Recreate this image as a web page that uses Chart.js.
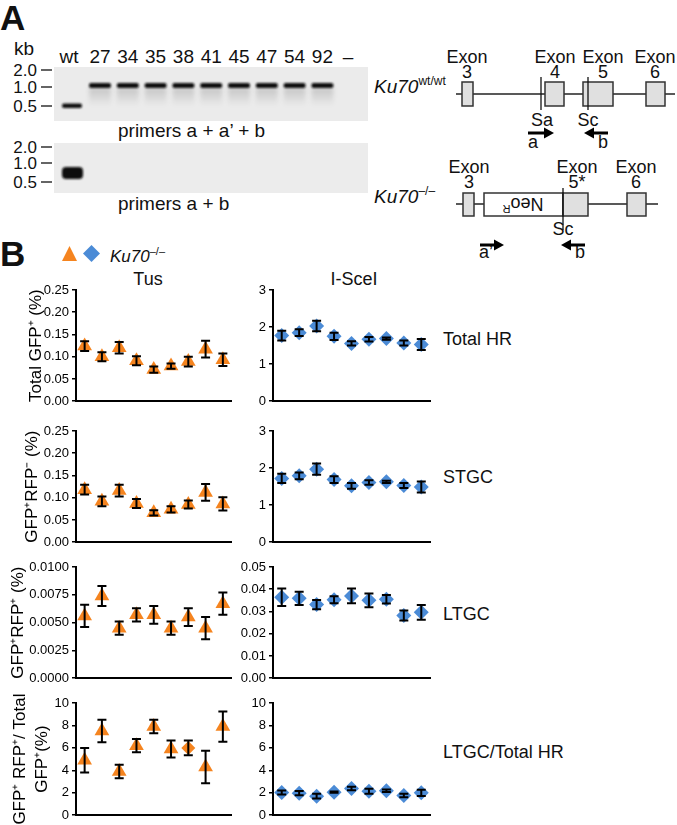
<!DOCTYPE html>
<html>
<head>
<meta charset="utf-8">
<script src="https://cdn.jsdelivr.net/npm/chart.js@4.4.1/dist/chart.umd.min.js"></script>
<style>
  body { margin: 0; background: #fff; }
  #page { position: relative; width: 677px; height: 825px; overflow: hidden; font-family: 'Liberation Sans', Arial, sans-serif; }
  #page canvas { position: absolute; }
  #art { position: absolute; left: 0; top: 0; }
  #art text { font-family: 'Liberation Sans', Arial, sans-serif; fill: #111; }
</style>
</head>
<body>
<div id="page">
<svg id="art" width="677" height="825" xmlns="http://www.w3.org/2000/svg">
  <defs>
    <filter id="soft" x="-20%" y="-100%" width="140%" height="300%"><feGaussianBlur stdDeviation="0.9"/></filter>
    <filter id="haze" x="-20%" y="-50%" width="140%" height="200%"><feGaussianBlur stdDeviation="2"/></filter>
    <linearGradient id="smear" x1="0" y1="0" x2="0" y2="1">
      <stop offset="0" stop-color="#000" stop-opacity="0.16"/>
      <stop offset="1" stop-color="#000" stop-opacity="0"/>
    </linearGradient>
  </defs>

  <!-- panel A : gel -->
  <text x="0" y="30" font-size="35" font-weight="bold">A</text>
  <text x="14" y="55" font-size="19">kb</text>
  <rect x="54" y="67" width="314" height="54" fill="#ebebeb"/>
  <rect x="54" y="143" width="314" height="50" fill="#ececec"/>
  <g id="lanes"></g>
  <g font-size="17" text-anchor="end">
    <text x="37" y="76">2.0</text><text x="37" y="93">1.0</text><text x="37" y="112">0.5</text>
    <text x="37" y="153">2.0</text><text x="37" y="169">1.0</text><text x="37" y="188">0.5</text>
  </g>
  <g stroke="#111" stroke-width="1.3">
    <line x1="41" y1="70" x2="52" y2="70"/><line x1="41" y1="87" x2="52" y2="87"/><line x1="41" y1="106" x2="52" y2="106"/>
    <line x1="41" y1="147" x2="52" y2="147"/><line x1="41" y1="163" x2="52" y2="163"/><line x1="41" y1="182" x2="52" y2="182"/>
  </g>
  <rect x="62" y="103.5" width="20" height="4.5" rx="2" fill="#111" filter="url(#soft)"/>
  <rect x="62" y="167" width="21" height="12" rx="4" fill="#0a0a0a" filter="url(#soft)"/>
  <text x="118" y="137" font-size="19">primers a + a’ + b</text>
  <text x="118" y="210" font-size="19">primers a + b</text>
  <text x="374" y="93" font-size="19"><tspan font-style="italic">Ku70</tspan><tspan font-size="12" dy="-8">wt/wt</tspan></text>
  <text x="374" y="203" font-size="19"><tspan font-style="italic">Ku70</tspan><tspan font-size="12" dy="-8">–/–</tspan></text>

  <!-- panel A : locus maps -->
  <g font-size="18" text-anchor="middle">
    <text x="467" y="63">Exon</text><text x="467" y="78">3</text>
    <text x="555" y="63">Exon</text><text x="555" y="78">4</text>
    <text x="603" y="63">Exon</text><text x="603" y="78">5</text>
    <text x="655" y="63">Exon</text><text x="655" y="78">6</text>
    <text x="542" y="126">Sa</text><text x="588" y="126">Sc</text>
    <text x="533" y="148">a</text><text x="603" y="148">b</text>
    <text x="469" y="173">Exon</text><text x="469" y="188">3</text>
    <text x="577" y="173">Exon</text><text x="577" y="188">5*</text>
    <text x="636" y="173">Exon</text><text x="636" y="188">6</text>
    <text x="563" y="235">Sc</text>
    <text x="486" y="258">a’</text><text x="580" y="258">b</text>
  </g>
  <g stroke="#222" stroke-width="1.5">
    <line x1="456" y1="94" x2="675" y2="94"/>
    <line x1="456" y1="204" x2="658" y2="204"/>
  </g>
  <g fill="#e0e0e0" stroke="#333" stroke-width="1.5">
    <rect x="462" y="82" width="11" height="24"/>
    <rect x="545" y="82" width="19" height="24"/>
    <rect x="583" y="82" width="30" height="24"/>
    <rect x="646" y="82" width="19" height="24"/>
    <rect x="463" y="193" width="11" height="23"/>
    <rect x="484" y="193" width="79" height="23" fill="#fff"/>
    <rect x="563" y="193" width="25" height="23"/>
    <rect x="627" y="193" width="19" height="23"/>
  </g>
  <g stroke="#111" stroke-width="1.3">
    <line x1="541" y1="77" x2="541" y2="110"/>
    <line x1="588" y1="77" x2="588" y2="110"/>
    <line x1="563" y1="188" x2="563" y2="230"/>
  </g>
  <text font-size="18" text-anchor="middle" transform="rotate(180 523 204)" x="523" y="210">Neo<tspan font-size="11" dy="-7">R</tspan></text>
  <g stroke="#000" stroke-width="3">
    <line x1="528" y1="133" x2="546" y2="133"/>
    <line x1="608" y1="133" x2="591" y2="133"/>
    <line x1="480" y1="245" x2="497" y2="245"/>
    <line x1="585" y1="245" x2="568" y2="245"/>
  </g>
  <g fill="#000">
    <polygon points="554,133 544,127.5 544,138.5"/>
    <polygon points="584,133 594,127.5 594,138.5"/>
    <polygon points="504,245 494,239.5 494,250.5"/>
    <polygon points="561,245 571,239.5 571,250.5"/>
  </g>

  <!-- panel B : labels -->
  <text x="0" y="266" font-size="35" font-weight="bold">B</text>
  <polygon points="69.5,246 77,261 62,261" fill="#f5841f"/>
  <polygon points="91.5,245 100,253.5 91.5,262 83,253.5" fill="#4b8bd6"/>
  <text x="110" y="262" font-size="17"><tspan font-style="italic">Ku70</tspan><tspan font-size="11" dy="-7">–/–</tspan></text>
  <g font-size="18" text-anchor="middle">
    <text x="148" y="285">Tus</text>
    <text x="354" y="285">I-SceI</text>
  </g>
  <g font-size="18">
    <text x="443" y="345">Total HR</text>
    <text x="443" y="483">STGC</text>
    <text x="443" y="620">LTGC</text>
    <text x="443" y="758">LTGC/Total HR</text>
  </g>
</svg>
</div>

<script>
// clone numbers (lanes of the gel, points of each plot)
const clones = ['27', '34', '35', '38', '41', '45', '47', '54', '92'];

// Tus (orange triangles): mean and SEM per clone
const tusTotal = [0.124, 0.100, 0.120, 0.091, 0.071, 0.079, 0.089, 0.117, 0.093];
const tusTotalErr = [0.011, 0.010, 0.013, 0.010, 0.007, 0.006, 0.011, 0.019, 0.014];
const tusStgc = [0.118, 0.092, 0.116, 0.087, 0.066, 0.074, 0.085, 0.112, 0.086];
const tusStgcErr = [0.011, 0.011, 0.013, 0.010, 0.006, 0.007, 0.009, 0.019, 0.015];
const tusLtgc = [0.0056, 0.0074, 0.0045, 0.0057, 0.0057, 0.0045, 0.0055, 0.0045, 0.0067];
const tusLtgcErr = [0.0010, 0.0009, 0.0006, 0.0006, 0.0008, 0.0006, 0.0008, 0.0010, 0.0010];
const tusRatio = [4.9, 7.5, 3.9, 6.2, 7.9, 5.9, 6.0, 4.3, 7.9];
const tusRatioErr = [1.1, 1.0, 0.6, 0.6, 0.6, 0.75, 0.65, 1.45, 1.35];

// I-SceI (blue diamonds)
const isceTotal = [1.77, 1.85, 2.03, 1.75, 1.56, 1.67, 1.69, 1.57, 1.53];
const isceTotalErr = [0.13, 0.09, 0.14, 0.10, 0.06, 0.06, 0.03, 0.07, 0.15];
const isceStgc = [1.72, 1.79, 1.97, 1.69, 1.52, 1.61, 1.63, 1.53, 1.49];
const isceStgcErr = [0.125, 0.09, 0.15, 0.09, 0.08, 0.06, 0.03, 0.07, 0.15];
const isceLtgc = [0.0364, 0.0359, 0.0331, 0.0353, 0.0370, 0.0350, 0.0355, 0.0282, 0.0296];
const isceLtgcErr = [0.0039, 0.0030, 0.0021, 0.0016, 0.0033, 0.0031, 0.0019, 0.0022, 0.0033];
const isceRatio = [2.03, 1.96, 1.70, 2.05, 2.38, 2.13, 2.18, 1.76, 1.99];
const isceRatioErr = [0.18, 0.19, 0.22, 0.06, 0.15, 0.22, 0.12, 0.15, 0.28];

const FONT = "'Liberation Sans', Arial, sans-serif";
const ORANGE = '#f5841f';
const BLUE = '#4b8bd6';
const page = document.getElementById('page');

// gel lane labels and bands
const SVGNS = 'http://www.w3.org/2000/svg';
const lanes = document.getElementById('lanes');
function svgEl(tag, attrs, text) {
  const el = document.createElementNS(SVGNS, tag);
  for (const k in attrs) el.setAttribute(k, attrs[k]);
  if (text) el.textContent = text;
  lanes.appendChild(el);
}
svgEl('text', { x: 69, y: 63, 'font-size': 19, 'text-anchor': 'middle' }, 'wt');
clones.forEach((c, i) => {
  const cx = 100 + i * 27.8;
  svgEl('text', { x: cx, y: 63, 'font-size': 19, 'text-anchor': 'middle' }, c);
  svgEl('rect', { x: cx - 11, y: 88, width: 22, height: 18, fill: 'url(#smear)', filter: 'url(#haze)' });
  svgEl('rect', { x: cx - 11, y: 83, width: 22, height: 5, rx: 2, fill: '#111', filter: 'url(#soft)' });
});
svgEl('text', { x: 348, y: 63, 'font-size': 19, 'text-anchor': 'middle' }, '–');

// error bars drawn on top of the markers
const errorBars = {
  id: 'errorBars',
  afterDatasetsDraw(chart) {
    const ctx = chart.ctx;
    const yScale = chart.scales.y;
    chart.data.datasets.forEach((ds, i) => {
      chart.getDatasetMeta(i).data.forEach((pt, j) => {
        const v = ds.data[j].y, e = ds.errors[j];
        const top = yScale.getPixelForValue(v + e);
        const bot = yScale.getPixelForValue(v - e);
        ctx.save();
        ctx.strokeStyle = '#000';
        ctx.lineWidth = 2;
        ctx.beginPath();
        ctx.moveTo(pt.x, top); ctx.lineTo(pt.x, bot);
        ctx.moveTo(pt.x - 4.5, top); ctx.lineTo(pt.x + 4.5, top);
        ctx.moveTo(pt.x - 4.5, bot); ctx.lineTo(pt.x + 4.5, bot);
        ctx.stroke();
        ctx.restore();
      });
    });
  }
};

function panel(cfg) {
  const padTop = 12, padBottom = 10;
  const cv = document.createElement('canvas');
  cv.width = cfg.width;
  cv.height = cfg.bottom - cfg.top + padTop + padBottom;
  cv.style.left = cfg.left + 'px';
  cv.style.top = (cfg.top - padTop) + 'px';
  page.appendChild(cv);

  new Chart(cv, {
    type: 'scatter',
    data: {
      datasets: [{
        data: cfg.values.map((v, i) => ({ x: i, y: v })),
        errors: cfg.errors,
        pointStyle: cfg.style,
        pointRadius: cfg.radius,
        pointHoverRadius: cfg.radius,
        backgroundColor: cfg.color,
        borderWidth: 0,
        clip: false
      }]
    },
    options: {
      responsive: false,
      animation: false,
      devicePixelRatio: 1,
      layout: { padding: { top: padTop, bottom: padBottom, left: 0, right: 8 } },
      plugins: { legend: { display: false }, tooltip: { enabled: false } },
      scales: {
        x: {
          type: 'linear', min: -0.5, max: 8.5,
          ticks: { display: false },
          grid: { display: false, drawTicks: false },
          border: { display: true, color: '#000', width: 2 },
          afterFit(s) { s.height = 0; }
        },
        y: {
          min: cfg.min, max: cfg.max,
          ticks: {
            stepSize: cfg.step, color: '#000', padding: 3,
            font: { family: FONT, size: 13 },
            callback: v => Number(v).toFixed(cfg.dec)
          },
          grid: { drawOnChartArea: false, drawTicks: true, tickLength: 4, color: '#000', lineWidth: 1.5 },
          border: { color: '#000', width: 2 },
          title: cfg.title ? {
            display: true, text: cfg.title, color: '#000',
            font: { family: FONT, size: 17, lineHeight: cfg.titleLine || 1.2 },
            padding: { top: cfg.titlePad, bottom: 0 }
          } : { display: false },
          afterFit(s) { s.width = cfg.axisW; }
        }
      }
    },
    plugins: [errorBars]
  });
}

const tusBase = { left: 0, width: 240, axisW: 76, color: ORANGE, style: 'triangle', radius: 8.5 };
const isceBase = { left: 236, width: 202, axisW: 37, color: BLUE, style: 'rectRot', radius: 7.5 };

// row 1: total HR
panel({ ...tusBase, top: 290, bottom: 402, values: tusTotal, errors: tusTotalErr,
  min: 0, max: 0.25, step: 0.05, dec: 2, title: 'Total GFP⁺ (%)', titlePad: 26 });
panel({ ...isceBase, top: 290, bottom: 402, values: isceTotal, errors: isceTotalErr,
  min: 0, max: 3, step: 1, dec: 0 });

// row 2: STGC
panel({ ...tusBase, top: 431, bottom: 543, values: tusStgc, errors: tusStgcErr,
  min: 0, max: 0.25, step: 0.05, dec: 2, title: 'GFP⁺RFP⁻ (%)', titlePad: 22 });
panel({ ...isceBase, top: 431, bottom: 543, values: isceStgc, errors: isceStgcErr,
  min: 0, max: 3, step: 1, dec: 0 });

// row 3: LTGC
panel({ ...tusBase, top: 567, bottom: 679, values: tusLtgc, errors: tusLtgcErr,
  min: 0, max: 0.01, step: 0.0025, dec: 4, title: 'GFP⁺RFP⁺ (%)', titlePad: 8 });
panel({ ...isceBase, top: 567, bottom: 679, values: isceLtgc, errors: isceLtgcErr,
  min: 0, max: 0.05, step: 0.01, dec: 2 });

// row 4: LTGC / total HR
panel({ ...tusBase, top: 703, bottom: 816, values: tusRatio, errors: tusRatioErr,
  style: ctx => (ctx.dataIndex === 6 ? 'rectRot' : 'triangle'),
  radius: ctx => (ctx.dataIndex === 6 ? 7 : 8.5),
  min: 0, max: 10, step: 2, dec: 0,
  title: ['GFP⁺ RFP⁺/ Total', 'GFP⁺(%)'], titlePad: 9, titleLine: 1.3 });
panel({ ...isceBase, top: 703, bottom: 816, values: isceRatio, errors: isceRatioErr,
  min: 0, max: 10, step: 2, dec: 0 });
</script>
</body>
</html>
